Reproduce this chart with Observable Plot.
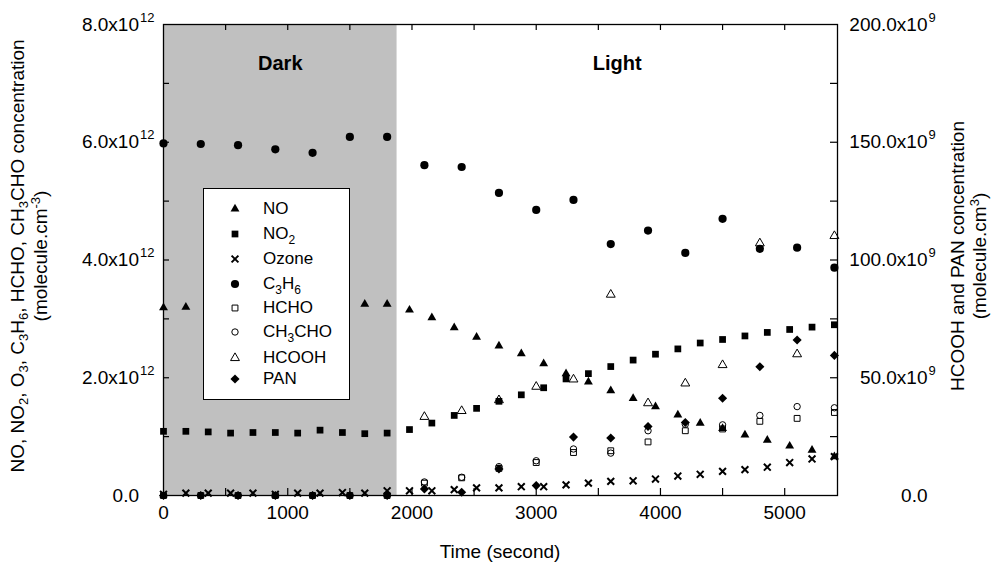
<!DOCTYPE html>
<html><head><meta charset="utf-8">
<script src="https://cdn.jsdelivr.net/npm/d3@7"></script>
<script src="https://cdn.jsdelivr.net/npm/@observablehq/plot@0.6"></script>
<style>
body{margin:0;background:#fff;font-family:"Liberation Sans",Arial,sans-serif;color:#000;}
#wrap{position:relative;width:995px;height:562px;overflow:hidden;}
.ttl{position:absolute;font-size:19px;white-space:nowrap;text-align:center;line-height:23px;}
.ttl.r{line-height:22px;}
.ttl sub{font-size:13px;vertical-align:-4px;line-height:0;}
.ttl sup{font-size:13px;vertical-align:7px;line-height:0;}
#legend{position:absolute;left:203px;top:188px;width:145px;height:210px;background:#fff;border:1.3px solid #000;}
.lrow{position:absolute;left:0;font-size:17px;line-height:17px;white-space:nowrap;}
.lrow sub{font-size:12px;vertical-align:-5px;line-height:0;}
.lrow svg{position:absolute;left:23px;top:-8px;}
.lrow span.t{position:absolute;left:59px;top:-9px;}
</style></head><body><div id="wrap"></div>
<script>
// ---------- data (left-axis species in 10^12 molecule/cm3, right-axis species in 10^9) ----------
const darkEnd = 1880;
const xMax = 5425;
const phases = [{name: "Dark", start: 0, end: 1880}, {name: "Light", start: 1880, end: 5425}];

const tFast = [0,180,360,540,720,900,1080,1260,1440,1620,1800,1980,2160,2340,2520,2700,2880,3060,3240,3420,3600,3780,3960,4140,4320,4500,4680,4860,5040,5220,5400];
const NO    = [3.19,3.20,3.21,3.20,3.22,3.20,3.21,3.20,3.22,3.25,3.25,3.15,3.02,2.85,2.69,2.54,2.41,2.24,2.07,1.93,1.78,1.65,1.51,1.37,1.23,1.14,1.03,0.94,0.84,0.77,0.66];
const NO2   = [1.09,1.09,1.08,1.06,1.07,1.07,1.06,1.11,1.07,1.05,1.06,1.12,1.23,1.36,1.48,1.60,1.71,1.83,1.98,2.07,2.19,2.30,2.40,2.49,2.59,2.65,2.71,2.77,2.82,2.86,2.90];
const Ozone = [0.02,0.04,0.04,0.04,0.04,0.02,0.04,0.04,0.05,0.04,0.08,0.08,0.08,0.10,0.13,0.13,0.15,0.15,0.18,0.21,0.24,0.25,0.28,0.33,0.36,0.41,0.44,0.48,0.56,0.62,0.66];

const tSlow  = [0,300,600,900,1200,1500,1800,2100,2400,2700,3000,3300,3600,3900,4200,4500,4800,5100,5400];
const C3H6   = [5.98,5.97,5.95,5.88,5.82,6.09,6.09,5.61,5.58,5.14,4.85,5.02,4.27,4.50,4.12,4.70,4.19,4.21,3.87];
const HCHO   = [0,0,0,0,0,0,0,0.21,0.30,0.46,0.56,0.73,0.76,0.91,1.10,1.13,1.26,1.31,1.41];
const CH3CHO = [0,0,0,0,0,0,0,0.23,0.31,0.49,0.59,0.79,0.72,1.10,1.21,1.20,1.36,1.51,1.49];
const PAN    = [0,0,0,0,0,0,0,2.8,1.4,11.3,4.2,24.8,24.4,29.3,31.0,41.3,54.7,66.0,59.5];

const tHCOOH = [2100,2400,2700,3000,3300,3600,3900,4200,4500,4800,5100,5400];
const HCOOH  = [33.4,35.9,40.5,46.2,49.3,85.3,39.2,47.6,55.4,107.1,60.0,110.2];

// axes / ticks
const leftMax = 8;      // 8.0x10^12
const rightMax = 200;   // 200.0x10^9
const xTickValues = [0,1000,2000,3000,4000,5000];
const xMinorTicks = [500,1000,1500,2000,2500,3000,3500,4000,4500,5000];
const leftTickValues = [0,2,4,6,8];
const leftTickBase = ["0.0","2.0x10","4.0x10","6.0x10","8.0x10"];
const leftTickExp  = ["","12","12","12","12"];
const leftMinorTicks = [1,2,3,4,5,6,7];
const rightTickValues = [0,50,100,150,200];
const rightTickBase = ["0.0","50.0x10","100.0x10","150.0x10","200.0x10"];
const rightTickExp  = ["","9","9","9","9"];

// ---------- build ----------
const k = leftMax / rightMax; // right units -> left units
const rows = (ts, vs) => ts.map((t, i) => ({t, v: vs[i]}));
const sz = r => Math.PI * r * r;

const series = [
  {name: "NO",     html: "NO",                 data: rows(tFast, NO),      scale: 1, sym: d3.symbolTriangle, r: 3.3, fill: "#000", stroke: "none"},
  {name: "NO2",    html: "NO<sub>2</sub>",     data: rows(tFast, NO2),     scale: 1, sym: d3.symbolSquare,   r: 3.8, fill: "#000", stroke: "none"},
  {name: "Ozone",  html: "Ozone",              data: rows(tFast, Ozone),   scale: 1, sym: d3.symbolTimes,    r: 3.2, fill: "none", stroke: "#000", sw: 2},
  {name: "C3H6",   html: "C<sub>3</sub>H<sub>6</sub>", data: rows(tSlow, C3H6), scale: 1, sym: d3.symbolCircle, r: 4.1, fill: "#000", stroke: "none"},
  {name: "HCHO",   html: "HCHO",               data: rows(tSlow, HCHO),    scale: 1, sym: d3.symbolSquare,   r: 3.3, fill: "none", stroke: "#000", sw: 1},
  {name: "CH3CHO", html: "CH<sub>3</sub>CHO",  data: rows(tSlow, CH3CHO),  scale: 1, sym: d3.symbolCircle,   r: 3.2, fill: "none", stroke: "#000", sw: 1},
  {name: "HCOOH",  html: "HCOOH",              data: rows(tHCOOH, HCOOH),  scale: k, sym: d3.symbolTriangle, r: 3.3, fill: "none", stroke: "#000", sw: 1},
  {name: "PAN",    html: "PAN",                data: rows(tSlow, PAN),     scale: k, sym: d3.symbolDiamond2, r: 4.1, fill: "#000", stroke: "none"}
];

const W = 995, H = 562, mL = 163, mR = 158, mT = 24, mB = 67;
const fw = W - mL - mR, fh = H - mT - mB;

const dotMarks = series.map(s => Plot.dot(s.data, {
  x: "t", y: d => d.v * s.scale, symbol: s.sym, r: s.r,
  fill: s.fill, stroke: s.stroke, strokeWidth: s.sw || 0
}));

const chart = Plot.plot({
  width: W, height: H,
  marginLeft: mL, marginRight: mR, marginTop: mT, marginBottom: mB,
  x: {domain: [0, xMax], axis: null},
  y: {domain: [0, leftMax], axis: null},
  style: {fontFamily: "'Liberation Sans', Arial, sans-serif", color: "#000", background: "transparent"},
  marks: [
    Plot.rect(phases.filter(p => p.name === "Dark"), {x1: "start", x2: "end", y1: 0, y2: leftMax, fill: "#c0c0c0"}),
    Plot.text(phases, {x: d => (d.start + d.end) / 2, frameAnchor: "top", dy: 31, text: "name", fontWeight: "bold", fontSize: 20, fill: "#000"}),
    ...dotMarks,
    // ticks (inward)
    Plot.tickX(xMinorTicks, {x: d => d, insetTop: fh - 7, stroke: "#000", strokeWidth: 1.2}),
    Plot.tickX(xMinorTicks, {x: d => d, insetBottom: fh - 6, stroke: "#000", strokeWidth: 1.2}),
    Plot.tickY(leftMinorTicks, {y: d => d, insetRight: fw - 6, stroke: "#000", strokeWidth: 1.2}),
    Plot.tickY(leftMinorTicks, {y: d => d, insetLeft: fw - 7, stroke: "#000", strokeWidth: 1.2}),
    Plot.frame({stroke: "#000", strokeWidth: 1.3}),
    // x tick labels
    Plot.text(xTickValues, {x: d => d, frameAnchor: "bottom", dy: 23, text: d => String(d), fontSize: 19, fill: "#000"}),
    // left tick labels
    Plot.text(leftTickValues, {y: d => d, frameAnchor: "left", dx: -24.5, textAnchor: "end", text: (d, i) => leftTickBase[i], fontSize: 19, fill: "#000"}),
    Plot.text(leftTickValues, {y: d => d, frameAnchor: "left", dx: -23.5, dy: -7, textAnchor: "start", text: (d, i) => leftTickExp[i], fontSize: 13, fill: "#000"}),
    // right tick labels
    Plot.text(rightTickValues, {y: d => d * k, frameAnchor: "right", dx: 90, textAnchor: "end", text: (d, i) => rightTickBase[i], fontSize: 19, fill: "#000"}),
    Plot.text(rightTickValues, {y: d => d * k, frameAnchor: "right", dx: 91, dy: -7, textAnchor: "start", text: (d, i) => rightTickExp[i], fontSize: 13, fill: "#000"})
  ]
});

const wrap = document.getElementById("wrap");
wrap.appendChild(chart);

function addDiv(cls, html, css) {
  const d = document.createElement("div");
  d.className = cls; d.innerHTML = html;
  Object.assign(d.style, css);
  wrap.appendChild(d);
  return d;
}
// axis titles
addDiv("ttl", "Time (second)", {left: "500px", top: "551px", transform: "translate(-50%,-50%)"});
addDiv("ttl", "NO, NO<sub>2</sub>, O<sub>3</sub>, C<sub>3</sub>H<sub>6</sub>, HCHO, CH<sub>3</sub>CHO concentration<br>(molecule.cm<sup>-3</sup>)",
  {left: "29px", top: "256px", transform: "translate(-50%,-50%) rotate(-90deg)"});
addDiv("ttl r", "HCOOH and PAN concentration<br>(molecule.cm<sup>3</sup>)",
  {left: "969px", top: "256px", transform: "translate(-50%,-50%) rotate(-90deg)"});

// legend
const legend = addDiv("", "", {});
legend.id = "legend";
const rowY = [20, 45, 70, 94.5, 119, 142.5, 168.5, 190];
series.forEach((s, i) => {
  const row = document.createElement("div");
  row.className = "lrow";
  row.style.top = rowY[i] + "px";
  const path = d3.symbol(s.sym, sz(s.r))();
  row.innerHTML = `<svg width="16" height="16" viewBox="-8 -8 16 16"><path d="${path}" fill="${s.fill}" stroke="${s.stroke}" stroke-width="${s.sw || 0}"/></svg><span class="t">${s.html}</span>`;
  legend.appendChild(row);
});
</script>
</body></html>
